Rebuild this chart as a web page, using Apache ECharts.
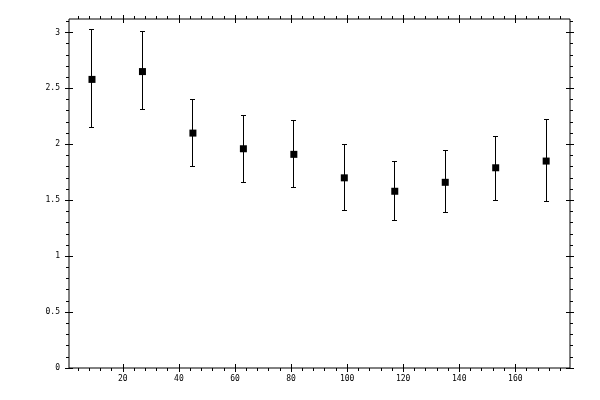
<!DOCTYPE html>
<html>
<head>
<meta charset="utf-8">
<script src="https://cdn.jsdelivr.net/npm/echarts@6/dist/echarts.min.js"></script>
<style>
html, body { margin: 0; padding: 0; background: #fff; }
#echart { width: 600px; height: 400px; }
</style>
</head>
<body>
<div id="echart"></div>
<script>
// data
var xData = [9, 27, 45, 63, 81, 99, 117, 135, 153, 171];
var yData = [2.58, 2.65, 2.10, 1.96, 1.91, 1.70, 1.58, 1.66, 1.79, 1.85];
var yHigh = [3.03, 3.01, 2.40, 2.26, 2.21, 2.00, 1.85, 1.94, 2.07, 2.22];
var yLow = [2.15, 2.31, 1.80, 1.66, 1.61, 1.41, 1.32, 1.39, 1.50, 1.49];

// axis ranges and tick steps
var xRange = [0.8, 179.5];
var yRange = [0, 3.12];
var xMajor = 20, xMinor = 4;
var yMajor = 0.5, yMinor = 0.1;

// plot frame
var L = 69, T = 19, W = 501, H = 349;
var sx = W / (xRange[1] - xRange[0]);
var sy = H / (yRange[1] - yRange[0]);

var labelStyle = {
    show: true,
    color: '#000',
    fontFamily: 'DejaVu Sans Mono',
    fontSize: 8
};

// first and last tick that fall inside [a, b]
function snap(a, b, step) {
    var k0 = Math.ceil(a / step - 1e-9), k1 = Math.floor(b / step + 1e-9);
    return [+(k0 * step).toFixed(6), +(k1 * step).toFixed(6)];
}

var grids = [{
    left: L, top: T, width: W, height: H,
    show: true, borderColor: '#000', borderWidth: 1,
    backgroundColor: 'transparent', outerBoundsMode: 'none'
}];
var xAxes = [{ gridIndex: 0, type: 'value', min: xRange[0], max: xRange[1], show: false }];
var yAxes = [{ gridIndex: 0, type: 'value', min: yRange[0], max: yRange[1], show: false }];

function tickAxis(g, pos, r, step, len, inside, label) {
    return {
        gridIndex: g, type: 'value', position: pos,
        min: r[0], max: r[1], interval: step,
        axisLine: { show: false },
        splitLine: { show: false },
        axisTick: { show: true, inside: inside, length: len, lineStyle: { color: '#000', width: 1 } },
        axisLabel: label ? label : { show: false }
    };
}

// tick marks on bottom + top, one grid per kind so the ticks line up with the frame
function addXTicks(step, len, inside, label) {
    var r = snap(xRange[0], xRange[1], step);
    var g = grids.length;
    grids.push({ left: L + (r[0] - xRange[0]) * sx, width: (r[1] - r[0]) * sx, top: T, height: H, outerBoundsMode: 'none' });
    yAxes.push({ gridIndex: g, type: 'value', min: 0, max: 1, show: false });
    xAxes.push(tickAxis(g, 'bottom', r, step, len, inside, label));
    xAxes.push(tickAxis(g, 'top', r, step, len, inside, null));
}

function addYTicks(step, len, inside, label) {
    var r = snap(yRange[0], yRange[1], step);
    var g = grids.length;
    grids.push({ left: L, width: W, top: T + (yRange[1] - r[1]) * sy, height: (r[1] - r[0]) * sy, outerBoundsMode: 'none' });
    xAxes.push({ gridIndex: g, type: 'value', min: 0, max: 1, show: false });
    yAxes.push(tickAxis(g, 'left', r, step, len, inside, label));
    yAxes.push(tickAxis(g, 'right', r, step, len, inside, null));
}

addXTicks(xMajor, 4, false, Object.assign({ margin: 7 }, labelStyle));
addXTicks(xMajor, 4, true, null);
addXTicks(xMinor, 3, false, null);
addYTicks(yMajor, 4, false, Object.assign({ margin: 9 }, labelStyle));
addYTicks(yMajor, 4, true, null);
addYTicks(yMinor, 3, false, null);

var barData = xData.map(function (x, i) { return [x, yLow[i], yHigh[i]]; });
var pointData = xData.map(function (x, i) { return [x, yData[i]]; });

function crisp(v) { return Math.round(v - 0.5) + 0.5; }

var myChart = echarts.init(document.getElementById('echart'));
var option = {
    backgroundColor: '#fff',
    animation: false,
    grid: grids,
    xAxis: xAxes,
    yAxis: yAxes,
    series: [
        {
            type: 'custom',
            xAxisIndex: 0,
            yAxisIndex: 0,
            data: barData,
            encode: { x: 0, y: [1, 2] },
            renderItem: function (params, api) {
                var lo = api.coord([api.value(0), api.value(1)]);
                var hi = api.coord([api.value(0), api.value(2)]);
                var x = crisp(lo[0]), y0 = crisp(lo[1]), y1 = crisp(hi[1]);
                var w = 2.5;
                var st = { stroke: '#000', lineWidth: 1 };
                return {
                    type: 'group',
                    children: [
                        { type: 'line', shape: { x1: x, y1: y1, x2: x, y2: y0 }, style: st },
                        { type: 'line', shape: { x1: x - w, y1: y1, x2: x + w, y2: y1 }, style: st },
                        { type: 'line', shape: { x1: x - w, y1: y0, x2: x + w, y2: y0 }, style: st }
                    ]
                };
            }
        },
        {
            type: 'scatter',
            xAxisIndex: 0,
            yAxisIndex: 0,
            data: pointData,
            symbol: 'rect',
            symbolSize: 7,
            itemStyle: { color: '#000', opacity: 1 },
            z: 3
        }
    ]
};
myChart.setOption(option);
</script>
</body>
</html>
